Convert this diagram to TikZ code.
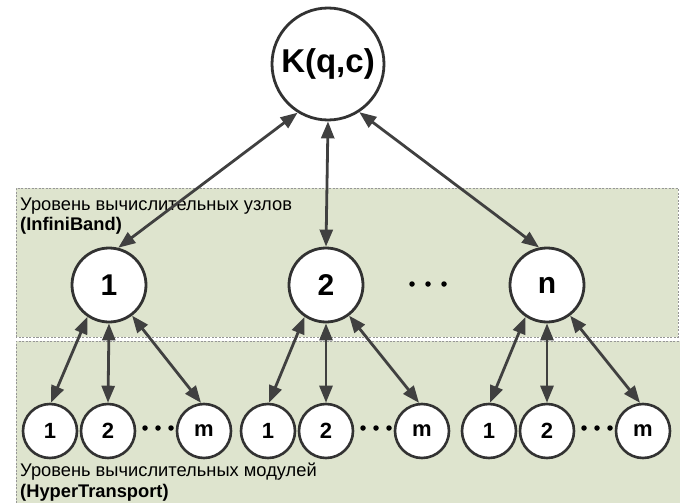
\documentclass[tikz,border=0pt]{standalone}
\usepackage{fontspec}
\setmainfont{Liberation Sans}
\usetikzlibrary{arrows.meta}
\definecolor{bandgreen}{RGB}{222,228,206}
\definecolor{bandedge}{RGB}{150,150,150}
\definecolor{linkgray}{RGB}{64,64,64}
\definecolor{ringgray}{RGB}{50,50,50}
\tikzset{
  band/.style={fill=bandgreen},
  bandline/.style={draw=bandedge, line width=0.9pt, dash pattern=on 2pt off 1.5pt},
  topnode/.style={circle, draw=ringgray, fill=white, line width=2.8pt, minimum size=112pt, inner sep=0pt, font=\fontsize{33}{36}\selectfont\bfseries},
  midnode/.style={circle, draw=ringgray, fill=white, line width=2.8pt, minimum size=74pt, inner sep=0pt, font=\fontsize{30}{32}\selectfont\bfseries},
  leafnode/.style={circle, draw=ringgray, fill=white, line width=2.6pt, minimum size=54pt, inner sep=0pt, font=\fontsize{22}{24}\selectfont\bfseries},
  link/.style={{Triangle[length=17pt,width=13pt]}-{Triangle[length=17pt,width=13pt]}, line width=2.8pt, draw=linkgray, fill=linkgray},
  bandlabel/.style={anchor=base west, inner sep=0pt, font=\fontsize{18.3}{20}\selectfont},
  dot/.style={circle, fill=black, inner sep=0pt, minimum size=5.5pt}
}
\begin{document}
\begin{tikzpicture}[x=1pt,y=-1pt]
  \useasboundingbox (0,0) rectangle (680,503);

  % computing-node level (InfiniBand)
  \fill[band] (16,188) rectangle (678,337);
  \draw[bandline] (16,337) -- (16,188) -- (678,188) -- (678,337) -- (16,337);
  % computing-module level (HyperTransport)
  \fill[band] (16,341) rectangle (680,503);
  \draw[bandline] (16,503) -- (16,341) -- (680,341);

  \node[bandlabel] (lvl1) at (20,210) {Уровень вычислительных узлов};
  \node[bandlabel] (lvl1b) at (20,230) {\bfseries (InfiniBand)};
  \node[bandlabel] (lvl2) at (20,476) {Уровень вычислительных модулей};
  \node[bandlabel] (lvl2b) at (20,497) {\bfseries (HyperTransport)};

  % root
  \node[topnode] (K) at (328,64) {K(q,c)};

  % computing nodes
  \node[midnode] (n1) at (109,285) {1};
  \node[midnode] (n2) at (326,285) {2};
  \node[midnode] (nn) at (547,285) {n};
  \node[dot] (d1) at (412,284) {};
  \node[dot] (d2) at (428,284) {};
  \node[dot] (d3) at (444,284) {};

  % computing modules
  \foreach \g/\x in {a/108, b/326, c/547} {
    \node[leafnode] (\g1) at (\x-58,431) {1};
    \node[leafnode] (\g2) at (\x,431) {2};
    \node[leafnode] (\g m) at (\x+96,431) {m};
    \node[dot] (\g d1) at (\x+37,428) {};
    \node[dot] (\g d2) at (\x+50,428) {};
    \node[dot] (\g d3) at (\x+63,428) {};
  }

  % links
  \draw[link] (K.238) -- (n1.76);
  \draw[link] (K.270) -- (n2.90);
  \draw[link] (K.303) -- (nn.102);

  \draw[link] (n1.236) -- (a1.88);
  \draw[link] (n1.270) -- (a2.90);
  \draw[link] (n1.307) -- (am.96);
  \draw[link] (n2.236) -- (b1.88);
  \draw[link] (n2.270) -- (b2.90);
  \draw[link] (n2.307) -- (bm.96);
  \draw[link] (nn.236) -- (c1.88);
  \draw[link] (nn.270) -- (c2.90);
  \draw[link] (nn.307) -- (cm.96);
\end{tikzpicture}
\end{document}
